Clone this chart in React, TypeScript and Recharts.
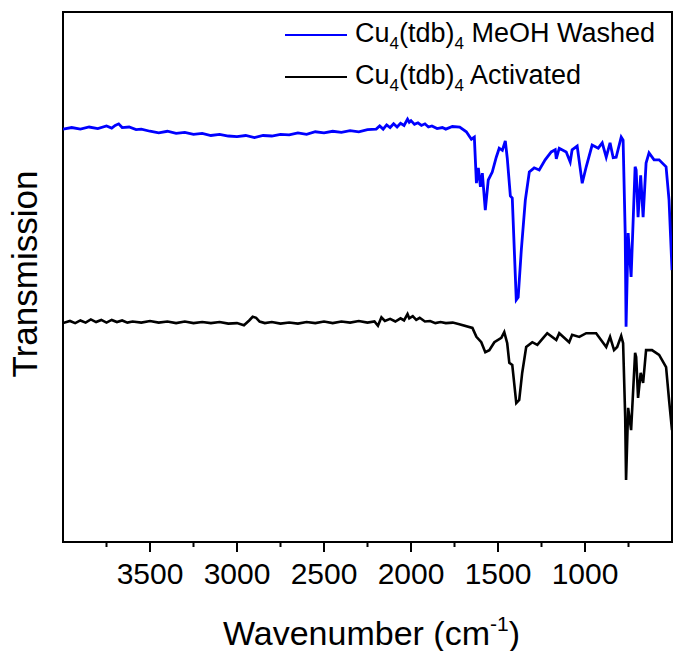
import React from "react";
import { Legend, Line, LineChart, ReferenceArea, XAxis, YAxis } from "recharts";

// wavenumbers (cm-1) and transmission (arb. units, 0-100)
const washedWn = [
  4000, 3950, 3900, 3850, 3800, 3750, 3720, 3700, 3680, 3660, 3620, 3580, 3550, 3500, 3450, 3400, 3350, 3300,
  3250, 3200, 3150, 3100, 3050, 3000, 2950, 2900, 2850, 2800, 2750, 2700, 2650, 2600, 2550, 2500, 2450, 2400,
  2350, 2300, 2250, 2200, 2180, 2160, 2140, 2120, 2100, 2080, 2060, 2040, 2020, 2010, 2000, 1980, 1960, 1940,
  1920, 1900, 1880, 1850, 1820, 1800, 1762, 1720,
  1682, 1653, 1636, 1624, 1613, 1601, 1590, 1573, 1556, 1533, 1510, 1493,
  1475, 1458, 1447, 1429, 1418, 1395, 1384, 1366, 1343, 1320, 1292, 1263, 1229, 1194, 1171, 1165, 1148, 1108,
  1085, 1074, 1045, 1016, 993, 959, 924, 901, 878, 856, 838, 821, 792, 781, 769, 764, 752, 735, 712, 706, 695,
  680, 666, 649, 632, 603, 574, 534, 517, 500,
];
const washedT = [
  77.9, 78.2, 77.9, 78.3, 78.0, 78.5, 78.1, 78.6, 78.9, 78.2, 78.3, 77.8, 77.9, 77.5, 77.2, 77.5, 77.1, 77.3,
  76.9, 77.1, 76.7, 76.9, 76.6, 76.5, 76.7, 76.3, 76.7, 76.6, 76.9, 76.8, 77.2, 76.9, 77.4, 77.2, 77.5, 77.3,
  77.6, 77.4, 77.8, 77.9, 78.5, 77.9, 78.7, 78.2, 78.9, 78.3, 79.0, 78.6, 79.8, 79.2, 79.5, 78.8, 79.1, 78.6,
  78.9, 78.3, 78.5, 78.0, 78.2, 77.9, 78.4, 78.3,
  77.4, 76.0, 76.4, 67.7, 70.6, 67.0, 69.6, 62.6, 68.3, 69.8, 72.6, 74.3,
  73.9, 75.7, 72.5, 65.3, 64.9, 45.7, 46.2, 55.1, 64.5, 69.8, 70.6, 70.2, 72.1, 73.6, 74.0, 72.3, 74.3, 73.6,
  71.7, 74.0, 74.7, 67.7, 70.8, 74.9, 74.3, 75.3, 72.6, 75.3, 72.5, 72.6, 76.4, 75.8, 58.3, 40.6, 58.3, 50.0,
  70.8, 70.2, 61.3, 69.2, 61.3, 71.5, 73.4, 72.1, 72.1, 70.8, 64.5, 51.3,
];

const activatedWn = [
  4000, 3960, 3930, 3900, 3870, 3840, 3810, 3780, 3750, 3720, 3690, 3660, 3630, 3600, 3550, 3500, 3450, 3400,
  3350, 3300, 3250, 3200, 3150, 3100, 3050, 3000, 2960, 2930, 2910, 2890, 2870, 2840, 2800, 2750, 2700, 2650,
  2600, 2550, 2500, 2450, 2400, 2350, 2300, 2250, 2210, 2190, 2170, 2150, 2120, 2090, 2060, 2040, 2020, 2010,
  1990, 1970, 1950, 1920, 1890, 1860, 1830, 1800, 1760, 1722,
  1647, 1624, 1596, 1573, 1550, 1521, 1481, 1464, 1447, 1435, 1418, 1395, 1378, 1361, 1338,
  1303, 1274, 1240, 1217, 1165, 1148, 1091, 1074, 1033, 993, 936, 878, 856, 833, 815, 792, 781, 769, 764, 752,
  735, 712, 706, 695, 680, 666, 649, 615, 574, 534, 517, 500,
];
const activatedT = [
  41.3, 41.7, 41.3, 41.8, 41.4, 42.0, 41.5, 41.9, 41.4, 41.9, 41.5, 41.8, 41.4, 41.6, 41.4, 41.7, 41.4, 41.6,
  41.3, 41.6, 41.3, 41.5, 41.3, 41.5, 41.2, 41.3, 40.9, 41.8, 42.5, 42.3, 41.6, 41.3, 41.5, 41.2, 41.4, 41.2,
  41.5, 41.3, 41.6, 41.3, 41.6, 41.4, 41.7, 41.4, 41.6, 40.8, 42.4, 41.7, 42.1, 41.6, 42.2, 41.8, 43.0, 42.2,
  42.6, 41.9, 42.3, 41.6, 41.7, 41.3, 41.5, 41.3, 41.4, 41.1,
  40.4, 38.7, 37.7, 35.8, 36.2, 37.7, 38.5, 39.6, 37.5, 33.8, 33.4, 26.2, 26.8, 31.9, 36.8,
  37.7, 37.2, 38.5, 39.4, 38.1, 39.4, 37.7, 39.1, 38.7, 39.4, 39.4, 36.8, 38.7, 36.2, 36.8, 38.9, 37.5, 23.6,
  11.7, 25.3, 21.1, 35.7, 34.9, 27.2, 31.9, 30.0, 36.2, 36.2, 35.3, 33.0, 26.8, 21.1,
];

const xTicks = [3750, 3500, 3250, 3000, 2750, 2500, 2250, 2000, 1750, 1500, 1250, 1000, 750];

const washed = washedWn.map((wn, i) => ({ wn, t: washedT[i] }));
const activated = activatedWn.map((wn, i) => ({ wn, t: activatedT[i] }));

const FONT = "Arial, 'Liberation Sans', Helvetica, sans-serif";

function AxisTick(props: any) {
  const { x, y, payload } = props;
  const major = payload.value % 500 === 0;
  return (
    <g>
      <line x1={x} x2={x} y1={y} y2={y + (major ? 10 : 5)} stroke="#000" strokeWidth={2} />
      {major && (
        <text x={x} y={y + 42} textAnchor="middle" fontSize={30} fontFamily={FONT} fill="#000">
          {payload.value}
        </text>
      )}
    </g>
  );
}

function XTitle(props: any) {
  const { viewBox } = props;
  return (
    <text
      x={viewBox.x + viewBox.width / 2 + 4}
      y={viewBox.y + 103}
      textAnchor="middle"
      fontSize={34}
      fontFamily={FONT}
      fill="#000"
    >
      <tspan>Wavenumber (cm</tspan>
      <tspan fontSize={21} dy={-14}>
        -1
      </tspan>
      <tspan dy={14}>)</tspan>
    </text>
  );
}

function YTitle(props: any) {
  const { viewBox } = props;
  const cx = viewBox.x + 37;
  const cy = viewBox.y + viewBox.height / 2 - 3;
  return (
    <text
      x={cx}
      y={cy}
      transform={`rotate(-90 ${cx} ${cy})`}
      textAnchor="middle"
      fontSize={35}
      fontFamily={FONT}
      fill="#000"
    >
      Transmission
    </text>
  );
}

const legendItems = [
  { color: "#0000ff", rest: " MeOH Washed" },
  { color: "#000000", rest: " Activated" },
];

function LegendBox() {
  return (
    <div style={{ fontFamily: FONT, fontSize: 27, color: "#000", lineHeight: "39px" }}>
      {legendItems.map((item) => (
        <div key={item.rest} style={{ display: "flex", alignItems: "center", whiteSpace: "nowrap" }}>
          <span style={{ display: "inline-block", width: 62, height: 2, background: item.color, marginRight: 8 }} />
          <span>
            Cu<span style={styles.sub}>4</span>(tdb)<span style={styles.sub}>4</span>
            {item.rest}
          </span>
        </div>
      ))}
    </div>
  );
}

export default function App() {
  return (
    <div style={styles.page}>
      <LineChart width={673} height={651} data={washed} margin={{ top: 12, right: 1, left: 0, bottom: 0 }}>
        <XAxis
          dataKey="wn"
          type="number"
          domain={[500, 4000]}
          reversed
          ticks={xTicks}
          interval={0}
          allowDataOverflow
          axisLine={false}
          tickLine={false}
          tickSize={0}
          tickMargin={0}
          tick={<AxisTick />}
          height={109}
          label={<XTitle />}
        />
        <YAxis
          type="number"
          domain={[0, 100]}
          allowDataOverflow
          width={63}
          tick={false}
          axisLine={false}
          tickLine={false}
          label={<YTitle />}
        />
        <Line
          data={washed}
          dataKey="t"
          type="linear"
          stroke="#0000ff"
          strokeWidth={2.8}
          dot={false}
          activeDot={false}
          isAnimationActive={false}
        />
        <Line
          data={activated}
          dataKey="t"
          type="linear"
          stroke="#000000"
          strokeWidth={2.6}
          dot={false}
          activeDot={false}
          isAnimationActive={false}
        />
        <ReferenceArea x1={500} x2={4000} y1={0} y2={100} fill="none" stroke="#000" strokeWidth={2} />
        <Legend
          layout="vertical"
          align="center"
          verticalAlign="middle"
          content={<LegendBox />}
          wrapperStyle={{ position: "absolute", top: 14, left: 285, width: 390 }}
        />
      </LineChart>
    </div>
  );
}

const styles: Record<string, React.CSSProperties> = {
  page: {
    position: "absolute",
    top: 0,
    left: 0,
    background: "#ffffff",
  },
  sub: {
    fontSize: 17,
    position: "relative",
    top: 7,
  },
};
